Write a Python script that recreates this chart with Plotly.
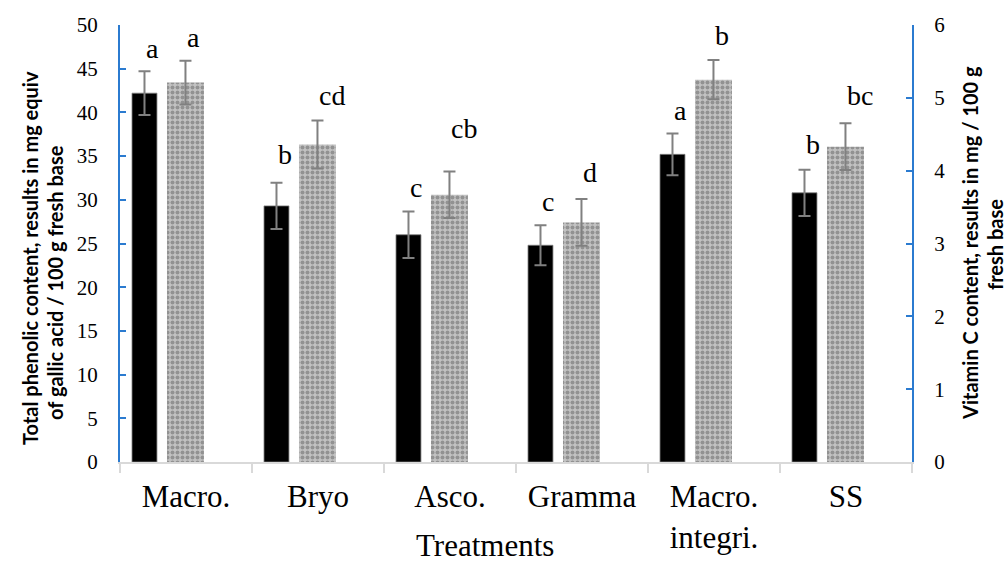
import plotly.graph_objects as go

# ---------------- data ----------------
categories = ["Macro.", "Bryo", "Asco.", "Gramma", "Macro.<br>integri.", "SS"]
phenolic = [42.2, 29.3, 26.0, 24.8, 35.2, 30.8]
phenolic_err = [2.5, 2.65, 2.65, 2.3, 2.4, 2.65]
vitamin_c = [5.21, 4.36, 3.67, 3.29, 5.25, 4.33]
vitamin_c_err = [0.30, 0.33, 0.32, 0.32, 0.27, 0.32]
phenolic_letters = ["a", "b", "c", "c", "a", "b"]
vitamin_c_letters = ["a", "cd", "cb", "d", "b", "bc"]

# ---------------- style / layout ----------------
W, H = 1007, 566
L, R, T, B = 120, 95, 25, 104
plot_w = W - L - R
plot_h = H - T - B
BLUE = "#2b7bd0"
GREY_AX = "#d9d9d9"
ERR = "#808080"
SERIF = "Liberation Serif, Times New Roman, serif"
SANS = "Lato, Carlito, Calibri, sans-serif"

blk_off, blk_w = -0.409, 0.189
gry_off, gry_w = -0.144, 0.28
# pixel gaps between error-bar top and letter baseline
blk_gap = [13, 19, 15, 14, 13, 16]
gry_gap = [14, 15, 33, 17, 15, 18]

fig = go.Figure()

fig.add_trace(go.Bar(
    x=categories, y=phenolic, offset=blk_off, width=blk_w,
    marker=dict(color="black", line=dict(color="#7f7f7f", width=0.8)),
    error_y=dict(type="data", array=phenolic_err, color=ERR, thickness=2, width=6),
    yaxis="y", showlegend=False, hoverinfo="skip",
))
# textured grey bars
fig.add_trace(go.Bar(
    x=categories, y=vitamin_c, offset=gry_off, width=gry_w,
    marker=dict(color="#b8b8b8", line=dict(width=0),
                pattern=dict(shape=".", bgcolor="#c2c2c2", fgcolor="#626262",
                             size=5, solidity=0.5)),
    error_y=dict(type="data", array=vitamin_c_err, color=ERR, thickness=2, width=6),
    yaxis="y2", showlegend=False, hoverinfo="skip",
))

annotations = []
DESC = 8
for i, (v, e, t) in enumerate(zip(phenolic, phenolic_err, phenolic_letters)):
    annotations.append(dict(x=i + blk_off + blk_w / 2, y=v + e, xref="x", yref="y",
                            text=t, showarrow=False, xanchor="left", yanchor="bottom",
                            yshift=blk_gap[i] - DESC,
                            font=dict(family=SERIF, size=28, color="black")))
for i, (v, e, t) in enumerate(zip(vitamin_c, vitamin_c_err, vitamin_c_letters)):
    annotations.append(dict(x=i + gry_off + gry_w / 2, y=v + e, xref="x", yref="y2",
                            text=t, showarrow=False, xanchor="left", yanchor="bottom",
                            yshift=gry_gap[i] - DESC,
                            font=dict(family=SERIF, size=28, color="black")))


def px_x(p):
    return (p - L) / plot_w


def px_y(p):
    return (H - B - p) / plot_h


title_font = dict(family=SANS, size=20, color="black")
annotations += [
    dict(text="<b>Total phenolic content, results in mg equiv</b>", textangle=-90,
         x=px_x(30), y=px_y(258), xref="paper", yref="paper", showarrow=False,
         xanchor="center", yanchor="middle", font=title_font),
    dict(text="<b>of gallic acid / 100 g fresh base</b>", textangle=-90,
         x=px_x(55), y=px_y(283), xref="paper", yref="paper", showarrow=False,
         xanchor="center", yanchor="middle", font=title_font),
    dict(text="<b>Vitamin C content, results in mg / 100 g</b>", textangle=-90,
         x=px_x(970), y=px_y(243), xref="paper", yref="paper", showarrow=False,
         xanchor="center", yanchor="middle", font=title_font),
    dict(text="<b>fresh base</b>", textangle=-90,
         x=px_x(995), y=px_y(245), xref="paper", yref="paper", showarrow=False,
         xanchor="center", yanchor="middle", font=title_font),
    dict(text="Treatments", x=px_x(485), y=px_y(545), xref="paper", yref="paper",
         showarrow=False, xanchor="center", yanchor="middle",
         font=dict(family=SERIF, size=31, color="black")),
]

fig.update_layout(
    width=W, height=H,
    margin=dict(l=L, r=R, t=T, b=B, autoexpand=False),
    paper_bgcolor="white", plot_bgcolor="white",
    barmode="overlay",
    xaxis=dict(type="category", range=[-0.5, 5.5], tickson="boundaries",
               ticks="outside", ticklen=9, tickwidth=2, tickcolor=GREY_AX,
               showline=True, linecolor=GREY_AX, linewidth=2, showgrid=False,
               ticklabelstandoff=6,
               tickfont=dict(family=SERIF, size=31, color="black")),
    yaxis=dict(range=[0, 50], dtick=5, showgrid=False, zeroline=False,
               showline=True, linecolor=BLUE, linewidth=2,
               ticks="inside", ticklen=6, tickwidth=2, tickcolor=BLUE,
               ticklabelstandoff=16,
               tickfont=dict(family=SERIF, size=21, color="black")),
    yaxis2=dict(range=[0, 6], dtick=1, overlaying="y", side="right",
                showgrid=False, zeroline=False,
                showline=True, linecolor=BLUE, linewidth=2,
                ticks="inside", ticklen=6, tickwidth=2, tickcolor=BLUE,
                ticklabelstandoff=16,
                tickfont=dict(family=SERIF, size=21, color="black")),
    annotations=annotations,
)

fig.write_html("out.html", config={"displayModeBar": False},
               post_script="document.body.style.margin='0';")
